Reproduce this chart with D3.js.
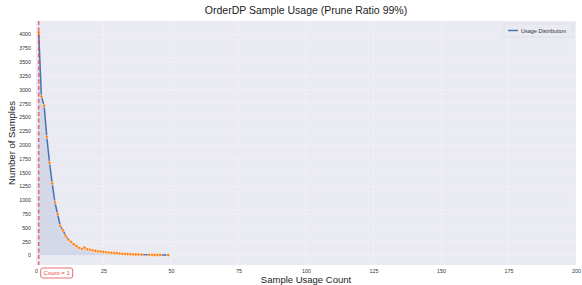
<!DOCTYPE html>
<html>
<head>
<meta charset="utf-8">
<script src="https://cdn.jsdelivr.net/npm/d3@7"></script>
<style>
  body { margin: 0; background: #fff; }
  svg { display: block; font-family: "Liberation Sans", Arial, sans-serif; }
</style>
</head>
<body>
<div id="chart"></div>
<script>
// usage count -> number of samples with that count
const usageCounts = [1, 2, 3, 4, 5, 6, 7, 8, 9, 10, 11, 12, 13, 14, 15, 16, 17, 18, 19, 20,
  21, 22, 23, 24, 25, 26, 27, 28, 29, 30, 31, 32, 33, 34, 35, 36, 37, 38, 39, 42, 43, 44, 45, 46, 49];
const sampleCounts = [4030, 2878, 2708, 2141, 1676, 1303, 959, 747, 530, 450, 352, 283, 244, 196, 166, 132, 118, 138, 108, 100,
  90, 82, 72, 68, 60, 55, 50, 44, 42, 38, 32, 28, 25, 22, 20, 18, 15, 14, 12, 10, 9, 8, 7, 6, 4];
const xTicks = [0, 25, 50, 75, 100, 125, 150, 175, 200];
const yTicks = [0, 250, 500, 750, 1000, 1250, 1500, 1750, 2000, 2250, 2500, 2750, 3000, 3250, 3500, 3750, 4000];
const markedCount = 1;

const data = usageCounts.map((c, i) => ({ x: c, y: sampleCounts[i] }));

const width = 582, height = 285;
const margin = { top: 21, right: 6, bottom: 20, left: 36 };
const w = width - margin.left - margin.right;
const h = height - margin.top - margin.bottom;

const svg = d3.select('#chart').append('svg')
  .attr('width', width)
  .attr('height', height);

const x = d3.scaleLinear().domain([0, 200]).range([0, w]);
const y = d3.scaleLinear().domain([-176, 4240]).range([h, 0]);

const g = svg.append('g').attr('transform', `translate(${margin.left},${margin.top})`);

g.append('rect').attr('width', w).attr('height', h).attr('fill', '#eaeaf2');

// grid
g.append('g').selectAll('line').data(xTicks).join('line')
  .attr('x1', d => x(d)).attr('x2', d => x(d))
  .attr('y1', 0).attr('y2', h)
  .attr('stroke', '#fff').attr('stroke-width', 0.7).attr('stroke-dasharray', '2.5,1.5').attr('opacity', 0.6);
g.append('g').selectAll('line').data(yTicks).join('line')
  .attr('x1', 0).attr('x2', w)
  .attr('y1', d => y(d)).attr('y2', d => y(d))
  .attr('stroke', '#fff').attr('stroke-width', 0.7).attr('stroke-dasharray', '2.5,1.5').attr('opacity', 0.6);

// area under curve
const area = d3.area().x(d => x(d.x)).y0(y(0)).y1(d => y(d.y));
g.append('path').datum(data).attr('d', area).attr('fill', '#4c72b0').attr('opacity', 0.15);

// line
const line = d3.line().x(d => x(d.x)).y(d => y(d.y));
g.append('path').datum(data).attr('d', line)
  .attr('fill', 'none').attr('stroke', '#4c72b0').attr('stroke-width', 1.5);

// markers
g.append('g').selectAll('circle').data(data).join('circle')
  .attr('cx', d => x(d.x)).attr('cy', d => y(d.y)).attr('r', 1.6)
  .attr('fill', '#ff7f0e').attr('stroke', '#fff').attr('stroke-width', 0.5);

// reference line at count = 1
g.append('line')
  .attr('x1', x(markedCount)).attr('x2', x(markedCount))
  .attr('y1', 0).attr('y2', h)
  .attr('stroke', '#e8474a').attr('stroke-width', 1.6).attr('stroke-dasharray', '4,2.5').attr('opacity', 0.75);

// axes
const axX = g.append('g').attr('transform', `translate(0,${h})`)
  .call(d3.axisBottom(x).tickValues(xTicks).tickFormat(d3.format('d')).tickSize(0).tickPadding(4));
const axY = g.append('g')
  .call(d3.axisLeft(y).tickValues(yTicks).tickFormat(d3.format('d')).tickSize(0).tickPadding(5));
[axX, axY].forEach(a => {
  a.select('.domain').remove();
  a.selectAll('text').attr('font-size', 5.3).attr('fill', '#333').attr('font-family', '"Liberation Sans", Arial, sans-serif');
});

// annotation
const ann = g.append('g').attr('transform', `translate(${x(markedCount) + 2},${h + 3})`);
ann.append('rect').attr('width', 32).attr('height', 10).attr('rx', 2)
  .attr('fill', '#fff').attr('stroke', '#e8474a').attr('stroke-width', 0.8);
ann.append('text').attr('x', 16).attr('y', 7.3).attr('text-anchor', 'middle')
  .attr('font-size', 6).attr('fill', '#e8474a').text(`Count = ${markedCount}`);

// legend
const leg = g.append('g').attr('transform', `translate(${w - 72},3)`);
leg.append('rect').attr('width', 69).attr('height', 13).attr('rx', 1.5)
  .attr('fill', '#eaeaf2').attr('fill-opacity', 0.8).attr('stroke', '#d8d8e0').attr('stroke-width', 0.6);
leg.append('line').attr('x1', 4).attr('x2', 14).attr('y1', 6.5).attr('y2', 6.5)
  .attr('stroke', '#4c72b0').attr('stroke-width', 1.5);
leg.append('text').attr('x', 17).attr('y', 8.5).attr('font-size', 5.5).attr('fill', '#333').text('Usage Distribution');

// titles
svg.append('text').attr('x', margin.left + w / 2).attr('y', 14).attr('text-anchor', 'middle')
  .attr('font-size', 10.5).attr('fill', '#222').text('OrderDP Sample Usage (Prune Ratio 99%)');
svg.append('text').attr('x', margin.left + w / 2).attr('y', 283).attr('text-anchor', 'middle')
  .attr('font-size', 9.5).attr('fill', '#222').text('Sample Usage Count');
svg.append('text').attr('transform', `translate(15,${margin.top + h / 2}) rotate(-90)`).attr('text-anchor', 'middle')
  .attr('font-size', 9.5).attr('fill', '#222').text('Number of Samples');
</script>
</body>
</html>
